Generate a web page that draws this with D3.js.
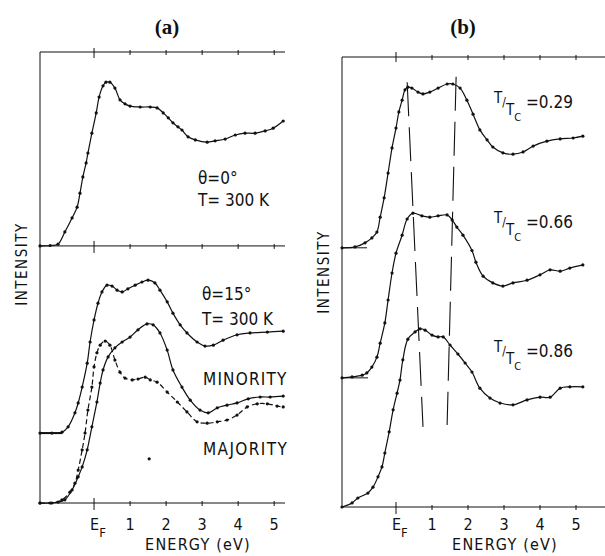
<!DOCTYPE html>
<html>
<head>
<meta charset="utf-8">
<script src="https://cdn.jsdelivr.net/npm/d3@7"></script>
<style>
  body { margin: 0; background: #fff; }
  text { font-family: "DejaVu Sans Condensed", "Liberation Sans Narrow", "DejaVu Sans", sans-serif; fill: #111; }
  .title { font-family: "Liberation Serif", "DejaVu Serif", serif; font-weight: bold; }
</style>
</head>
<body>
<script>
// ---- panel (a): [energy (eV), intensity (arb.)] ----
const theta0 = [[-1.5,57.0],[-1.22,57.1],[-1.0,57.4],[-0.81,60.1],[-0.61,63.2],[-0.47,65.6],[-0.39,68.7],
  [-0.31,72.3],[-0.22,75.4],[-0.17,77.6],[-0.06,82.0],[0.06,86.5],[0.14,90.0],[0.25,92.5],[0.33,93.3],
  [0.44,93.3],[0.58,92.0],[0.72,89.4],[0.86,88.5],[1.0,88.0],[1.28,87.8],[1.56,87.8],[1.75,87.6],
  [1.92,86.5],[2.06,85.4],[2.19,84.3],[2.33,83.4],[2.44,82.7],[2.61,81.2],[2.81,80.5],[3.14,80.0],
  [3.36,80.3],[3.64,80.7],[3.92,81.6],[4.19,82.0],[4.47,82.0],[4.75,82.5],[4.97,83.1],[5.25,84.7]];

const theta15 = [[-1.5,15.5],[-1.17,15.5],[-0.89,15.7],[-0.72,16.9],[-0.53,20.0],[-0.44,22.2],[-0.33,25.7],
  [-0.19,31.0],[-0.11,35.7],[0.0,40.6],[0.11,44.3],[0.22,46.8],[0.36,48.3],[0.5,48.1],[0.64,47.2],
  [0.78,46.8],[0.94,47.5],[1.14,48.3],[1.33,49.0],[1.5,49.4],[1.69,48.8],[1.83,47.2],[2.03,44.6],
  [2.19,42.1],[2.39,39.5],[2.58,37.7],[2.86,35.7],[3.08,34.8],[3.31,35.0],[3.58,36.1],[3.97,37.3],
  [4.33,37.7],[4.81,37.9],[5.25,38.1]];

const minority = [[-1.5,0],[-1.22,0],[-1.0,0.2],[-0.81,0.7],[-0.61,2.9],[-0.44,5.8],[-0.33,8.0],
  [-0.19,11.8],[-0.06,16.9],[0.08,22.4],[0.17,26.6],[0.25,29.5],[0.39,32.4],[0.58,34.4],[0.78,35.7],
  [1.0,36.8],[1.22,38.4],[1.47,39.7],[1.64,39.5],[1.83,37.7],[2.03,33.9],[2.19,29.5],[2.44,25.7],
  [2.67,22.8],[2.94,20.6],[3.17,20.0],[3.42,21.1],[3.69,21.7],[3.97,22.2],[4.28,23.1],[4.61,23.5],
  [4.89,23.5],[5.25,23.7]];

const majority = [[-1.5,0],[-1.17,0],[-0.89,0.7],[-0.67,2.4],[-0.53,4.4],[-0.44,7.3],[-0.33,11.8],
  [-0.25,15.5],[-0.17,20.6],[-0.06,25.7],[0.0,30.2],[0.08,33.3],[0.17,35.0],[0.31,35.9],[0.44,35.0],
  [0.58,31.7],[0.72,29.0],[0.86,27.7],[1.06,27.3],[1.22,27.5],[1.42,27.9],[1.56,27.3],[1.75,26.8],
  [2.03,24.6],[2.31,22.4],[2.58,20.2],[2.86,18.0],[3.14,17.7],[3.42,18.0],[3.69,18.4],[3.97,19.5],
  [4.25,21.3],[4.53,22.0],[4.81,22.0],[5.08,21.5],[5.25,21.3]];

const strayA = [[1.53, 9.8]];

// ---- panel (b) ----
const tc029 = [[-1.5,57.6],[-1.14,57.8],[-0.86,58.7],[-0.67,59.8],[-0.53,61.1],[-0.44,64.4],[-0.33,68.7],
  [-0.22,74.2],[-0.11,79.8],[0,84.2],[0.08,87.8],[0.17,90.4],[0.25,92.7],[0.33,93.3],[0.44,93.1],
  [0.61,92.2],[0.75,91.8],[0.94,92.2],[1.17,93.1],[1.42,94.0],[1.58,94.0],[1.78,93.1],[1.97,90.4],
  [2.14,87.3],[2.33,83.8],[2.53,81.6],[2.69,80.0],[2.97,78.7],[3.25,78.4],[3.53,78.9],[3.81,80.2],
  [4.19,81.3],[4.56,81.8],[4.92,82.0],[5.19,82.4]];

const tc066 = [[-1.5,28.7],[-1.22,28.9],[-0.94,29.3],[-0.81,29.8],[-0.67,31.1],[-0.53,33.3],[-0.44,36.4],
  [-0.31,40.9],[-0.22,46.0],[-0.11,52.0],[0,56.4],[0.17,60.4],[0.31,64.0],[0.47,65.3],[0.72,64.7],
  [0.94,64.4],[1.17,64.7],[1.42,64.9],[1.56,63.8],[1.69,62.2],[1.86,60.4],[2.11,57.0],[2.22,54.4],
  [2.42,51.3],[2.69,49.8],[2.97,49.1],[3.25,49.8],[3.64,50.4],[4.0,51.6],[4.28,52.7],[4.56,52.4],
  [4.83,53.1],[5.19,53.8]];

const tc086 = [[-1.5,0],[-1.22,0.9],[-1.06,2.0],[-0.78,3.1],[-0.64,4.4],[-0.5,6.7],[-0.39,8.9],
  [-0.31,12.0],[-0.19,16.7],[-0.08,21.6],[0.03,25.3],[0.11,28.2],[0.19,32.7],[0.33,37.3],[0.53,38.9],
  [0.67,39.6],[0.81,39.3],[1.0,38.2],[1.17,37.8],[1.31,37.8],[1.5,36.0],[1.72,34.0],[1.92,32.0],
  [2.11,30.0],[2.33,26.4],[2.61,24.2],[2.89,23.1],[3.25,22.7],[3.64,23.8],[4.0,24.4],[4.28,24.4],
  [4.56,26.4],[4.83,26.7],[5.19,26.7]];

const peakLow = [[0.31,94.4],[0.75,17.8]];
const peakHigh = [[1.67,95.6],[1.42,18.2]];

const tickEnergies = [0, 1, 2, 3, 4, 5];
const tickLabels = ["E", "1", "2", "3", "4", "5"];
const ratioLabels = ["=0.29", "=0.66", "=0.86"];

const W = 605, H = 556;
const svg = d3.select("body").append("svg").attr("width", W).attr("height", H);

const xa = d3.scaleLinear().domain([-1.5, 5.3]).range([40, 285]);
const ya = d3.scaleLinear().domain([0, 100]).range([503, 52]);
const xb = d3.scaleLinear().domain([-1.5, 5.25]).range([342, 585]);
const yb = d3.scaleLinear().domain([0, 100]).range([507, 57]);

const ink = "#111";

function drawCurve(g, data, x, y, dashed) {
  const line = d3.line()
    .x(d => x(d[0])).y(d => y(d[1]))
    .curve(d3.curveCatmullRom.alpha(0.5));
  g.append("path")
    .attr("d", line(data))
    .attr("fill", "none")
    .attr("stroke", ink)
    .attr("stroke-width", 1.2)
    .attr("stroke-dasharray", dashed ? "5,3" : null);
  g.selectAll(null)
    .data(data)
    .enter().append("circle")
    .attr("cx", d => x(d[0])).attr("cy", d => y(d[1]))
    .attr("r", 1.6).attr("fill", ink);
}

function hline(g, x1, x2, yy, w) {
  g.append("line").attr("x1", x1).attr("x2", x2).attr("y1", yy).attr("y2", yy)
    .attr("stroke", ink).attr("stroke-width", w || 1);
}

function energyTicks(g, x, yy, x2, longUp, longDown) {
  hline(g, x.range()[0], x2, yy, 1);
  g.selectAll(null).data(tickEnergies).enter().append("line")
    .attr("x1", d => x(d)).attr("x2", d => x(d))
    .attr("y1", d => d === 0 ? yy - longUp : yy - 2)
    .attr("y2", d => d === 0 ? yy + longDown : yy + 3)
    .attr("stroke", ink).attr("stroke-width", 1);
}

function tickText(g, x, yy) {
  const t = g.selectAll(null).data(tickEnergies).enter().append("text")
    .attr("x", d => d === 0 ? x(d) - 4 : x(d))
    .attr("y", yy)
    .attr("text-anchor", d => d === 0 ? "start" : "middle")
    .attr("font-size", 16)
    .text((d, i) => tickLabels[i]);
  t.filter(d => d === 0).append("tspan")
    .attr("dy", 7).attr("font-size", 13).text("F");
}

function sideLabel(g, cy, ax) {
  g.append("text")
    .attr("transform", `translate(${ax},${cy}) rotate(-90)`)
    .attr("text-anchor", "middle").attr("font-size", 15)
    .attr("letter-spacing", 1.5)
    .text("INTENSITY");
}

// ---------- panel (a) ----------
const ga = svg.append("g");
ga.append("line").attr("x1", 40).attr("x2", 40).attr("y1", ya(100)).attr("y2", ya(0))
  .attr("stroke", ink).attr("stroke-width", 1);
energyTicks(ga, xa, ya(100), 285, 4, 6);
energyTicks(ga, xa, ya(theta0[0][1]), 285, 5, 7);
energyTicks(ga, xa, ya(0), 285, 5, 7);
hline(ga, 40, 62, ya(theta15[0][1]), 2);

drawCurve(ga, theta0, xa, ya, false);
drawCurve(ga, theta15, xa, ya, false);
drawCurve(ga, minority, xa, ya, false);
drawCurve(ga, majority, xa, ya, true);
ga.selectAll(null).data(strayA).enter().append("circle")
  .attr("cx", d => xa(d[0])).attr("cy", d => ya(d[1])).attr("r", 1.6).attr("fill", ink);

ga.append("text").attr("class", "title").attr("x", 167).attr("y", 34)
  .attr("text-anchor", "middle").attr("font-size", 21).text("(a)");

function twoLine(g, x, y1, y2, a, b) {
  const t = g.append("text").attr("x", x).attr("y", y1).attr("font-size", 17);
  t.append("tspan").text(a);
  t.append("tspan").attr("x", x).attr("y", y2).text(b);
}
twoLine(ga, 198, 184, 206, "θ=0°", "T= 300 K");
twoLine(ga, 202, 300, 325, "θ=15°", "T= 300 K");
ga.append("text").attr("x", 203).attr("y", 385).attr("font-size", 17).attr("letter-spacing", 1.2).text("MINORITY");
ga.append("text").attr("x", 203).attr("y", 455).attr("font-size", 17).attr("letter-spacing", 1.4).text("MAJORITY");
tickText(ga, xa, 530);
ga.append("text").attr("x", 198).attr("y", 550).attr("text-anchor", "middle")
  .attr("font-size", 16).attr("letter-spacing", 1.2).text("ENERGY (eV)");
sideLabel(ga, 264, 27);

// ---------- panel (b) ----------
const gb = svg.append("g");
gb.append("line").attr("x1", 342).attr("x2", 342).attr("y1", yb(100)).attr("y2", yb(0))
  .attr("stroke", ink).attr("stroke-width", 1);
energyTicks(gb, xb, yb(100), 605, 5, 5);
energyTicks(gb, xb, yb(0), 605, 5, 7);
hline(gb, 342, 367, yb(tc029[0][1]), 1);
hline(gb, 342, 368, yb(tc066[0][1]), 1);

[peakLow, peakHigh].forEach(p => {
  gb.append("line")
    .attr("x1", xb(p[0][0])).attr("y1", yb(p[0][1]))
    .attr("x2", xb(p[1][0])).attr("y2", yb(p[1][1]))
    .attr("stroke", ink).attr("stroke-width", 1.1)
    .attr("stroke-dasharray", "34,11");
});

drawCurve(gb, tc029, xb, yb, false);
drawCurve(gb, tc066, xb, yb, false);
drawCurve(gb, tc086, xb, yb, false);

gb.append("text").attr("class", "title").attr("x", 463).attr("y", 34)
  .attr("text-anchor", "middle").attr("font-size", 21).text("(b)");

// T/Tc labels built as one text each
[108, 228, 357].forEach((b, i) => {
  const t = gb.append("text").attr("x", 494).attr("y", b - 5).attr("font-size", 15);
  t.append("tspan").text("T");
  t.append("tspan").attr("dy", 3).attr("font-size", 12).text("/");
  t.append("tspan").attr("dy", 9).text("T");
  t.append("tspan").attr("dy", 6).attr("font-size", 11).text("C");
  t.append("tspan").attr("x", 526).attr("y", b).attr("font-size", 17).text(ratioLabels[i]);
});

tickText(gb, xb, 530);
gb.append("text").attr("x", 505).attr("y", 550).attr("text-anchor", "middle")
  .attr("font-size", 16).attr("letter-spacing", 1.2).text("ENERGY (eV)");
sideLabel(gb, 272, 329);
</script>
</body>
</html>
